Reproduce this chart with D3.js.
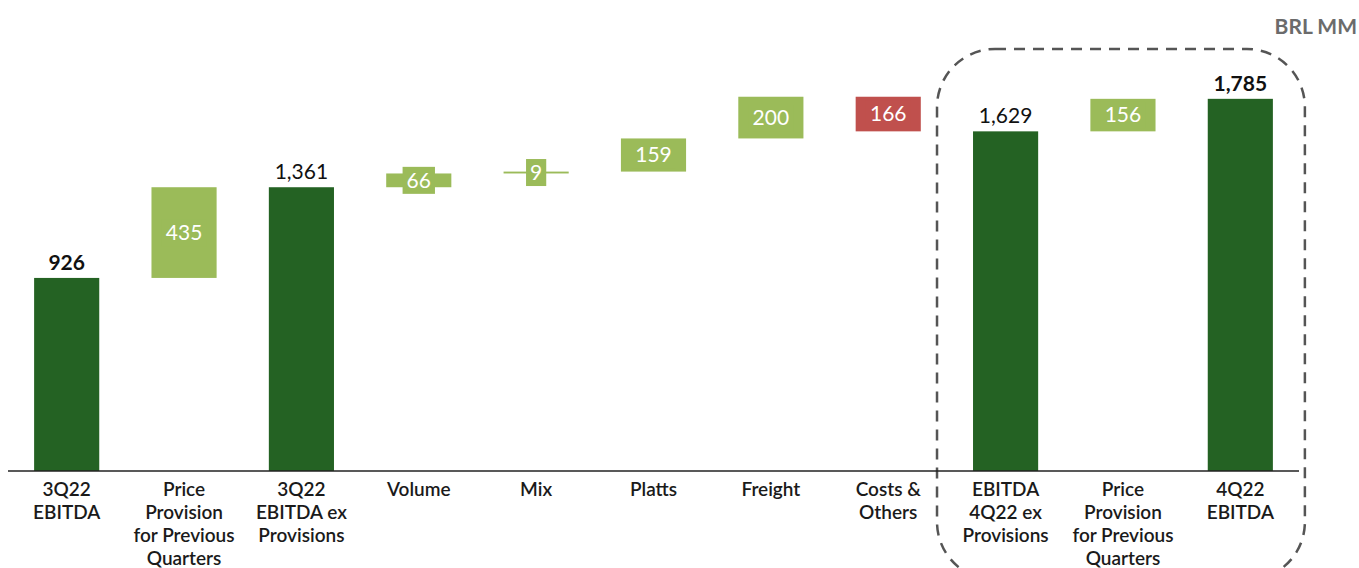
<!DOCTYPE html>
<html>
<head>
<meta charset="utf-8">
<script src="https://cdnjs.cloudflare.com/ajax/libs/d3/7.8.5/d3.min.js"></script>
<style>
    html, body { margin: 0; padding: 0; background: #fff; }
    #chart { width: 1359px; height: 568px; overflow: hidden; }
    text { font-family: Lato, "Open Sans", sans-serif; }
</style>
</head>
<body>
<div id="chart"></div>
<script>
// categories (one entry per line of the axis label)
const categories = [
    ["3Q22", "EBITDA"],
    ["Price", "Provision", "for Previous", "Quarters"],
    ["3Q22", "EBITDA ex", "Provisions"],
    ["Volume"],
    ["Mix"],
    ["Platts"],
    ["Freight"],
    ["Costs &", "Others"],
    ["EBITDA", "4Q22 ex", "Provisions"],
    ["Price", "Provision", "for Previous", "Quarters"],
    ["4Q22", "EBITDA"]
];
// "total" bars start at zero, "delta" bars float on the running total
const kinds = ["total", "delta", "total", "delta", "delta", "delta", "delta", "delta", "total", "delta", "total"];
const values = [926, 435, 1361, 66, 9, 159, 200, -166, 1629, 156, 1785];
const valueLabels = ["926", "435", "1,361", "66", "9", "159", "200", "166", "1,629", "156", "1,785"];
const unitLabel = "BRL MM";

class WaterfallChart {

    constructor(parentElement) {
        const self = this;
        self.parentElement = parentElement;
        self.width = 1359;
        self.height = 568;
        self.baseY = 471;
        self.colors = { total: "#246223", up: "#9BBB59", down: "#C0504D" };
        self.wrangleData();
        self.initVis();
    }

    wrangleData() {
        const self = this;
        let running = 0;
        self.displayData = values.map((v, i) => {
            let start, end;
            if (kinds[i] === "total") {
                start = 0; end = v; running = v;
            } else {
                start = running; end = running + v; running = end;
            }
            return { i: i, key: categories[i].join(" ") + i, lines: categories[i], kind: kinds[i], value: v, start: start, end: end, label: valueLabels[i] };
        });
    }

    initVis() {
        const self = this;

        self.svg = d3.select("#" + self.parentElement).append("svg")
            .attr("width", self.width)
            .attr("height", self.height);

        self.xScale = d3.scaleBand()
            .domain(self.displayData.map(d => d.key))
            .range([8, 1299])
            .paddingInner(0.445)
            .paddingOuter(0.2225);
        self.yScale = d3.scaleLinear().domain([0, 1800]).range([self.baseY, 95.7]);

        // dashed rounded frame around the last three categories
        const k = self.displayData;
        const x0 = self.xScale(k[8].key) - 36;
        const x1 = self.xScale(k[10].key) + self.xScale.bandwidth() + 32;
        self.svg.append("rect")
            .attr("x", x0).attr("y", 49)
            .attr("width", x1 - x0).attr("height", 531)
            .attr("rx", 58).attr("ry", 58)
            .attr("fill", "none")
            .attr("stroke", "#555")
            .attr("stroke-width", 2.5)
            .attr("stroke-dasharray", "11 8");

        self.updateVis();
    }

    updateVis() {
        const self = this;
        const x = self.xScale, y = self.yScale, bw = x.bandwidth();
        const fill = d => d.kind === "total" ? self.colors.total : (d.value < 0 ? self.colors.down : self.colors.up);

        self.svg.selectAll("rect.bar")
            .data(self.displayData, d => d.key)
            .enter()
            .append("rect")
            .attr("class", "bar")
            .attr("x", d => x(d.key))
            .attr("y", d => y(Math.max(d.start, d.end)))
            .attr("width", bw)
            .attr("height", d => Math.max(1.5, Math.abs(y(d.start) - y(d.end))))
            .attr("fill", fill);

        // values above the totals
        const totals = self.displayData.filter(d => d.kind === "total");
        self.svg.selectAll("text.total-label")
            .data(totals)
            .enter()
            .append("text")
            .attr("class", "total-label")
            .attr("x", d => x(d.key) + bw / 2)
            .attr("y", d => y(d.end) - 8)
            .attr("text-anchor", "middle")
            .attr("font-size", 21)
            .attr("font-weight", d => (d.i === 0 || d.i === self.displayData.length - 1) ? 700 : 400)
            .attr("fill", "#111")
            .text(d => d.label);

        // white values on boxes for the deltas
        const deltas = self.displayData.filter(d => d.kind === "delta");
        const groups = self.svg.selectAll("g.delta-label")
            .data(deltas)
            .enter()
            .append("g")
            .attr("class", "delta-label")
            .attr("transform", d => `translate(${x(d.key) + bw / 2}, ${(y(d.start) + y(d.end)) / 2})`);

        const bg = groups.append("rect").attr("fill", fill);
        const txt = groups.append("text")
            .attr("text-anchor", "middle")
            .attr("dy", "0.35em")
            .attr("font-size", 21)
            .attr("fill", "#fff")
            .text(d => d.label);

        txt.each(function (d) {
            const w = this.getComputedTextLength();
            d3.select(this.parentNode).select("rect")
                .attr("x", -w / 2 - 4)
                .attr("y", -13.5)
                .attr("width", w + 8)
                .attr("height", 27);
        });

        // axis line
        self.svg.append("line")
            .attr("x1", 8).attr("x2", 1299)
            .attr("y1", self.baseY).attr("y2", self.baseY)
            .attr("stroke", "#222")
            .attr("stroke-width", 1.5);

        // category labels
        const cat = self.svg.selectAll("text.cat")
            .data(self.displayData)
            .enter()
            .append("text")
            .attr("class", "cat")
            .attr("x", d => x(d.key) + bw / 2)
            .attr("y", 496)
            .attr("text-anchor", "middle")
            .attr("font-size", 19)
            .attr("font-weight", 600)
            .attr("fill", "#1a1a1a");
        cat.selectAll("tspan")
            .data(d => d.lines.map(l => ({ l: l, cx: x(d.key) + bw / 2 })))
            .enter()
            .append("tspan")
            .attr("x", t => t.cx)
            .attr("dy", (t, j) => j === 0 ? 0 : 23)
            .text(t => t.l);

        self.svg.append("text")
            .attr("x", 1357)
            .attr("y", 34)
            .attr("text-anchor", "end")
            .attr("font-size", 21)
            .attr("font-weight", 700)
            .attr("fill", "#6b6b6b")
            .text(unitLabel);
    }
}

new WaterfallChart("chart");
</script>
</body>
</html>
